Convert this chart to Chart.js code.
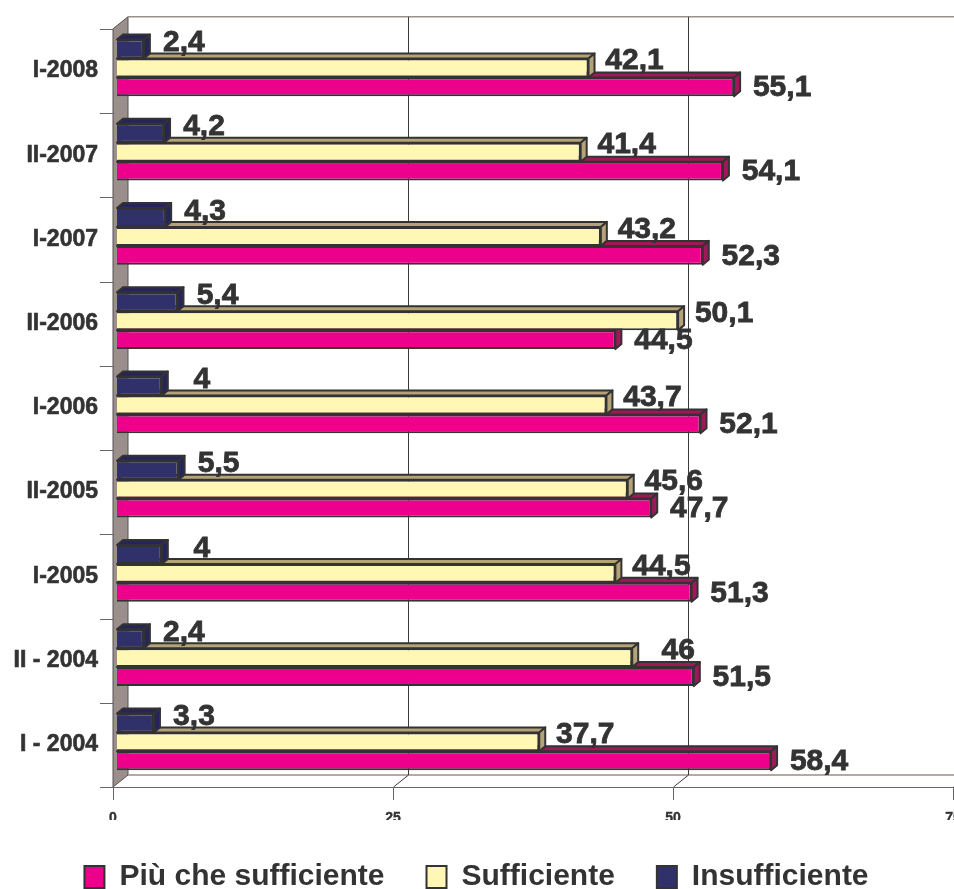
<!DOCTYPE html>
<html>
<head>
<meta charset="utf-8">
<title>Giudizio per semestre</title>
<script src="https://cdn.jsdelivr.net/npm/chart.js@4/dist/chart.umd.min.js"></script>
<style>
  body { margin: 0; background: #ffffff; }
  canvas { display: block; }
</style>
</head>
<body>
<canvas id="barChart" width="954" height="889"></canvas>
<script>
// periods, oldest first (the y axis is reversed so I-2008 ends up on top)
const periods = ['I - 2004', 'II - 2004', 'I-2005', 'II-2005', 'I-2006', 'II-2006', 'I-2007', 'II-2007', 'I-2008'];
const piuCheSufficiente = [58.4, 51.5, 51.3, 47.7, 52.1, 44.5, 52.3, 54.1, 55.1];
const sufficiente = [37.7, 46, 44.5, 45.6, 43.7, 50.1, 43.2, 41.4, 42.1];
const insufficiente = [3.3, 2.4, 4, 5.5, 4, 5.4, 4.3, 4.2, 2.4];
const xTicks = [0, 25, 50, 75];

const TEXT = '#333333';
const FONT = '"Liberation Sans", Arial, Helvetica, sans-serif';

// fake 3d: wall/floor depth, bar plane shift and bar thickness
const WALL_DX = 15, WALL_DY = -12;
const SHIFT_X = 4, SHIFT_Y = -3;
const BAR_DX = 6, BAR_DY = 5;

const sideColors = ['#25255a', '#b3a376', '#a0185a'];
const labelShift = [[40, -6], [46, -7], [48, 1]];

function fmt(v) {
    return String(v).replace('.', ',');
}

const frame3d = {
    id: 'frame3d',
    beforeDatasetsDraw(chart) {
        const {ctx, chartArea: a, scales: {x}} = chart;
        const W = chart.width;
        ctx.save();

        // grey left wall
        ctx.beginPath();
        ctx.moveTo(a.left, a.top);
        ctx.lineTo(a.left + WALL_DX, a.top + WALL_DY);
        ctx.lineTo(a.left + WALL_DX, a.bottom + WALL_DY);
        ctx.lineTo(a.left, a.bottom);
        ctx.closePath();
        ctx.fillStyle = '#9a8f8b';
        ctx.fill();
        ctx.strokeStyle = '#555050';
        ctx.lineWidth = 1;
        ctx.stroke();

        // back wall top edge and back floor edge
        ctx.strokeStyle = '#9a8f8b';
        ctx.lineWidth = 1.5;
        ctx.beginPath();
        ctx.moveTo(a.left + WALL_DX, a.top + WALL_DY);
        ctx.lineTo(W, a.top + WALL_DY);
        ctx.moveTo(a.left + WALL_DX, a.bottom + WALL_DY);
        ctx.lineTo(W, a.bottom + WALL_DY);
        ctx.stroke();

        // gridlines on the back wall, folding down across the floor
        ctx.strokeStyle = '#3a3a3a';
        ctx.lineWidth = 1;
        xTicks.slice(1).forEach(v => {
            const px = Math.round(x.getPixelForValue(v)) + 0.5;
            ctx.beginPath();
            ctx.moveTo(px + WALL_DX, a.top + WALL_DY);
            ctx.lineTo(px + WALL_DX, a.bottom + WALL_DY);
            ctx.lineTo(px, a.bottom);
            ctx.stroke();
        });

        // front axes with tick marks
        ctx.strokeStyle = '#666666';
        ctx.beginPath();
        ctx.moveTo(a.left - 13, a.bottom + 0.5);
        ctx.lineTo(W, a.bottom + 0.5);
        xTicks.forEach(v => {
            const px = Math.round(x.getPixelForValue(v)) + 0.5;
            ctx.moveTo(px, a.bottom);
            ctx.lineTo(px, a.bottom + 13);
        });
        const band = (a.bottom - a.top) / periods.length;
        for (let i = 0; i < periods.length; i++) {
            const py = Math.round(a.top + i * band) + 0.5;
            ctx.moveTo(a.left - 13, py);
            ctx.lineTo(a.left, py);
        }
        ctx.stroke();
        ctx.restore();

        // the bars sit a little behind the front plane
        ctx.save();
        ctx.translate(SHIFT_X, SHIFT_Y);
    },
    afterDatasetDraw(chart, args) {
        const ctx = chart.ctx;
        const ds = chart.data.datasets[args.index];
        ctx.save();
        ctx.lineWidth = 2;
        ctx.strokeStyle = ds.borderColor;
        ctx.lineJoin = 'round';
        args.meta.data.forEach(el => {
            const top = el.y - el.height / 2;
            const bot = el.y + el.height / 2;
            ctx.fillStyle = sideColors[args.index];
            // top face
            ctx.beginPath();
            ctx.moveTo(el.base, top);
            ctx.lineTo(el.base + BAR_DX, top - BAR_DY);
            ctx.lineTo(el.x + BAR_DX, top - BAR_DY);
            ctx.lineTo(el.x, top);
            ctx.closePath();
            ctx.fill();
            ctx.stroke();
            // end face
            ctx.beginPath();
            ctx.moveTo(el.x, top);
            ctx.lineTo(el.x + BAR_DX, top - BAR_DY);
            ctx.lineTo(el.x + BAR_DX, bot - BAR_DY);
            ctx.lineTo(el.x, bot);
            ctx.closePath();
            ctx.fill();
            ctx.stroke();
        });
        ctx.restore();
    },
    afterDatasetsDraw(chart) {
        const ctx = chart.ctx;
        ctx.restore();

        // value labels
        ctx.save();
        ctx.font = 'bold 30px ' + FONT;
        ctx.fillStyle = TEXT;
        ctx.strokeStyle = TEXT;
        ctx.lineWidth = 0.8;
        ctx.textAlign = 'center';
        ctx.textBaseline = 'middle';
        chart.data.datasets.forEach((ds, i) => {
            const meta = chart.getDatasetMeta(i);
            meta.data.forEach((el, j) => {
                const tx = el.x + SHIFT_X + labelShift[i][0];
                const ty = el.y + SHIFT_Y + labelShift[i][1];
                ctx.fillText(fmt(ds.data[j]), tx, ty);
                ctx.strokeText(fmt(ds.data[j]), tx, ty);
            });
        });
        ctx.restore();
    }
};

const ctx = document.getElementById('barChart');

new Chart(ctx, {
    type: 'bar',
    data: {
        labels: periods,
        datasets: [
            {
                label: 'Insufficiente',
                data: insufficiente,
                backgroundColor: '#30306b',
                borderColor: TEXT,
                borderWidth: 2
            },
            {
                label: 'Sufficiente',
                data: sufficiente,
                backgroundColor: '#fff7b3',
                borderColor: TEXT,
                borderWidth: 2
            },
            {
                label: 'Più che sufficiente',
                data: piuCheSufficiente,
                backgroundColor: '#ec008c',
                borderColor: TEXT,
                borderWidth: 2
            }
        ]
    },
    options: {
        indexAxis: 'y',
        responsive: false,
        animation: false,
        events: [],
        datasets: {
            bar: {
                categoryPercentage: 0.675,
                barPercentage: 1,
                clip: false
            }
        },
        layout: {
            padding: {top: 27.5, right: 1, left: 0, bottom: -13}
        },
        scales: {
            x: {
                min: 0,
                max: 75,
                grid: {display: false, drawTicks: false},
                border: {display: false},
                ticks: {
                    stepSize: 25,
                    padding: 23,
                    color: TEXT,
                    textStrokeColor: TEXT,
                    textStrokeWidth: 0.4,
                    font: {family: FONT, size: 14, weight: 'bold'}
                },
                afterFit(scale) {
                    scale.height = 33;
                    scale.paddingLeft = 0;
                    scale.paddingRight = 0;
                }
            },
            y: {
                reverse: true,
                grid: {display: false, drawTicks: false},
                border: {display: false},
                ticks: {
                    padding: 15,
                    color: TEXT,
                    textStrokeColor: TEXT,
                    textStrokeWidth: 0.6,
                    font: {family: FONT, size: 23, weight: 'bold'}
                },
                afterFit(scale) {
                    scale.width = 113;
                }
            }
        },
        plugins: {
            tooltip: {enabled: false},
            legend: {
                position: 'bottom',
                reverse: true,
                labels: {
                    boxWidth: 20,
                    boxHeight: 22,
                    padding: 42,
                    color: TEXT,
                    font: {family: FONT, size: 30, weight: 'bold'}
                }
            }
        }
    },
    plugins: [frame3d]
});
</script>
</body>
</html>
